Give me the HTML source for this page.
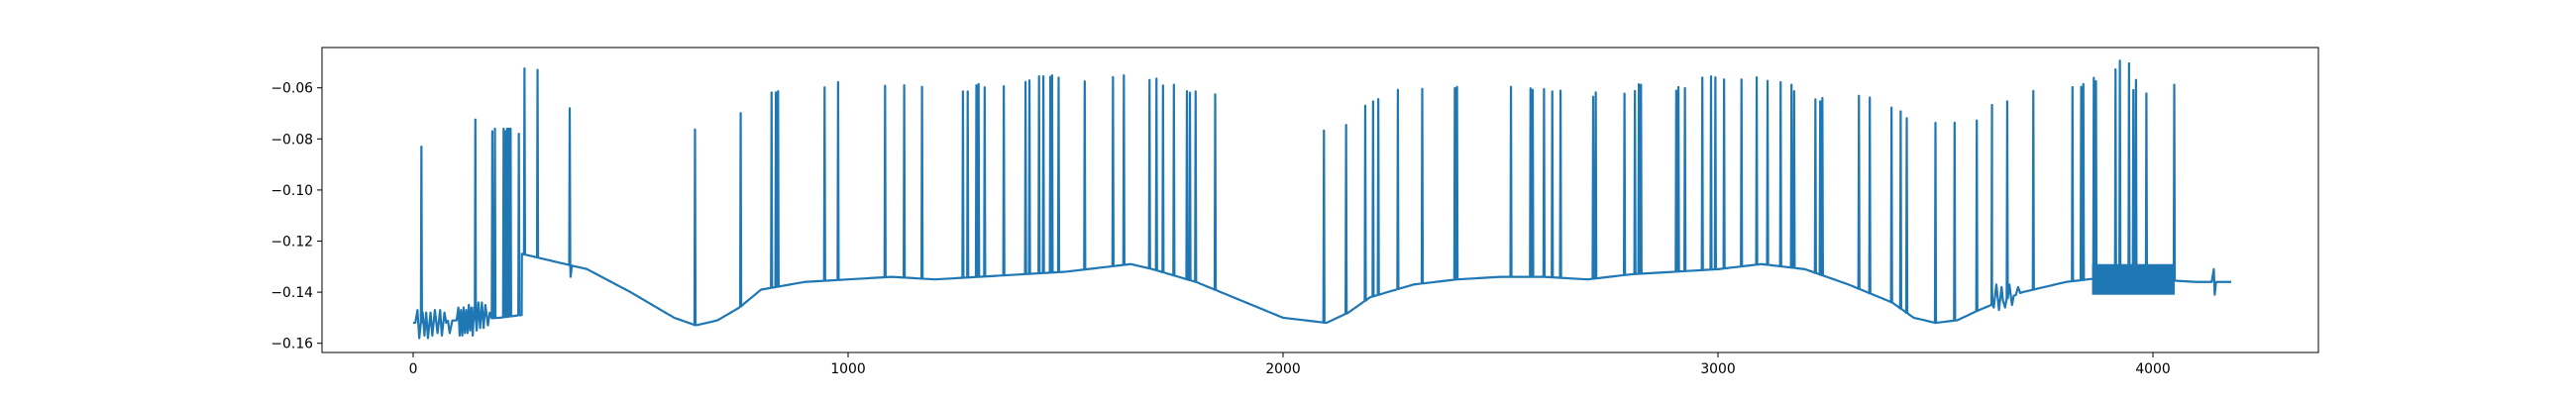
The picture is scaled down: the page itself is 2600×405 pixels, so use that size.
<!DOCTYPE html>
<html><head><meta charset="utf-8"><style>
html,body{margin:0;padding:0;background:#fff;}
svg text{font-family:"DejaVu Sans","Liberation Sans",sans-serif;font-size:13.9px;fill:#000;}
</style></head><body>
<svg id="chart" width="2600" height="400" xmlns="http://www.w3.org/2000/svg">
<rect x="0" y="0" width="2600" height="400" fill="#fff"/>
<g id="plot"></g>
<g id="axes"></g>
</svg>
<script>
// baseline knots (x, value)
const baseX = [0,100,200,245,250,300,400,500,600,650,700,750,800,900,1000,1100,1200,1300,1400,1500,1600,1650,1700,1800,1900,2000,2100,2150,2200,2300,2400,2500,2600,2700,2800,2900,3000,3100,3200,3300,3400,3450,3500,3550,3600,3700,3800,3900,4000,4100,4180];
const baseY = [-0.152,-0.151,-0.150,-0.149,-0.125,-0.127,-0.131,-0.140,-0.150,-0.153,-0.151,-0.146,-0.139,-0.136,-0.135,-0.134,-0.135,-0.134,-0.133,-0.132,-0.130,-0.129,-0.131,-0.136,-0.143,-0.150,-0.152,-0.148,-0.142,-0.137,-0.135,-0.134,-0.134,-0.135,-0.133,-0.132,-0.131,-0.129,-0.131,-0.137,-0.144,-0.150,-0.152,-0.151,-0.147,-0.140,-0.136,-0.134,-0.135,-0.136,-0.136];
// spike times and peak values
const spikeX = [19,143,182,188,208,212,216,220,224,243,256,286,360,648,753,824,834,839,946,977,1085,1129,1170,1264,1275,1295,1300,1314,1358,1408,1417,1439,1449,1465,1469,1484,1544,1609,1634,1693,1709,1724,1749,1779,1786,1799,1844,2094,2145,2189,2207,2219,2264,2320,2395,2400,2524,2569,2574,2600,2619,2638,2713,2719,2785,2809,2818,2823,2904,2909,2924,2964,2984,2994,3014,3054,3089,3114,3144,3169,3175,3224,3235,3240,3324,3349,3399,3420,3434,3500,3544,3595,3630,3665,3725,3815,3835,3840,3864,3869,3914,3924,3945,3955,3961,3985,4049];
const spikeY = [-0.083,-0.0724,-0.077,-0.076,-0.076,-0.077,-0.076,-0.076,-0.076,-0.078,-0.0524,-0.053,-0.068,-0.0763,-0.0699,-0.0618,-0.0618,-0.0613,-0.0598,-0.0578,-0.0592,-0.059,-0.0596,-0.0614,-0.0614,-0.059,-0.0585,-0.0598,-0.0594,-0.0577,-0.0571,-0.0555,-0.0555,-0.0557,-0.0551,-0.056,-0.0575,-0.0558,-0.0551,-0.0569,-0.0564,-0.0591,-0.0588,-0.0613,-0.0619,-0.0614,-0.0626,-0.0767,-0.0745,-0.067,-0.0653,-0.0644,-0.0608,-0.0604,-0.0601,-0.0596,-0.0596,-0.0602,-0.0608,-0.0605,-0.0614,-0.0611,-0.0635,-0.0618,-0.0623,-0.0612,-0.0586,-0.0588,-0.0611,-0.0597,-0.0601,-0.056,-0.0555,-0.0559,-0.0567,-0.0567,-0.0559,-0.0573,-0.0578,-0.0588,-0.0613,-0.0645,-0.0653,-0.064,-0.0631,-0.0638,-0.0677,-0.0692,-0.0719,-0.0737,-0.0736,-0.0728,-0.0667,-0.0653,-0.0612,-0.0597,-0.0596,-0.0585,-0.0561,-0.0574,-0.0528,-0.0494,-0.0504,-0.0609,-0.0569,-0.0622,-0.0588];
// noisy excursions (x, value)
const noiseX = [10,14,22,26,30,34,40,44,50,56,62,66,72,76,84,104,107,110,113,116,119,122,125,128,131,134,137,140,146,150,154,158,162,166,172,176,362,3630,3634,3640,3646,3652,3660,3670,3676,3690,4140,4142];
const noiseY = [-0.147,-0.158,-0.148,-0.157,-0.148,-0.158,-0.148,-0.157,-0.147,-0.156,-0.147,-0.157,-0.148,-0.152,-0.156,-0.146,-0.157,-0.147,-0.157,-0.146,-0.156,-0.147,-0.156,-0.145,-0.155,-0.146,-0.157,-0.146,-0.155,-0.144,-0.154,-0.144,-0.154,-0.145,-0.153,-0.148,-0.134,-0.138,-0.146,-0.137,-0.147,-0.138,-0.146,-0.137,-0.145,-0.138,-0.131,-0.141];
// dense noise band [xStart, xEnd, low, high]
const bandX0 = [3860];
const bandX1 = [4050];
const bandLo = [-0.141];
const bandHi = [-0.129];
const xTicks = [0,1000,2000,3000,4000];
const yTicks = [-0.16,-0.14,-0.12,-0.10,-0.08,-0.06];
const yTickLabels = ["−0.16","−0.14","−0.12","−0.10","−0.08","−0.06"];

const L=325,R=2340,T=48,B=356;
function sx(v){return 417+v*0.439;}
function sy(v){return 88.7+(-0.06-v)*2580;}
function baseAt(x){
  if(x>=245&&x<250) return baseY[3];
  for(let i=0;i<baseX.length-1;i++){
    if(x>=baseX[i]&&x<=baseX[i+1]){const t=(x-baseX[i])/(baseX[i+1]-baseX[i]);return baseY[i]+t*(baseY[i+1]-baseY[i]);}
  }
  return baseY[baseY.length-1];
}
const NS="http://www.w3.org/2000/svg";
const plot=document.getElementById('plot');
const axes=document.getElementById('axes');
const events=[];
spikeX.forEach(x=>events.push(x));
noiseX.forEach(x=>events.push(x));
function nearEvent(x){return events.some(e=>Math.abs(e-x)<2.5);}
let pts=[];
const xEnd=baseX[baseX.length-1];
for(let x=0;x<=xEnd;x+=5){ if(!nearEvent(x)) pts.push([x,baseAt(x)]); }
pts.push([249.5,baseY[3]]);pts.push([250,baseY[4]]);
for(let i=0;i<spikeX.length;i++){
  const b=baseAt(spikeX[i]);
  pts.push([spikeX[i]-1.2,b]);pts.push([spikeX[i],spikeY[i]]);pts.push([spikeX[i]+1.2,b]);
}
for(let i=0;i<noiseX.length;i++){pts.push([noiseX[i],noiseY[i]]);}
pts.sort((a,b)=>a[0]-b[0]);
const line=document.createElementNS(NS,'polyline');


line.setAttribute('points',pts.map(p=>sx(p[0]).toFixed(2)+','+sy(p[1]).toFixed(2)).join(' '));
line.setAttribute('fill','none');line.setAttribute('stroke','#1f77b4');line.setAttribute('stroke-width','2.2');line.setAttribute('stroke-linejoin','round');
plot.appendChild(line);
for(let i=0;i<bandX0.length;i++){
  const r=document.createElementNS(NS,'rect');
  
  
  r.setAttribute('x',sx(bandX0[i]));r.setAttribute('width',sx(bandX1[i])-sx(bandX0[i]));
  r.setAttribute('y',sy(bandHi[i]));r.setAttribute('height',sy(bandLo[i])-sy(bandHi[i]));
  r.setAttribute('fill','#1f77b4');
  plot.appendChild(r);
}
const frame=document.createElementNS(NS,'rect');


frame.setAttribute('x',L);frame.setAttribute('y',T);frame.setAttribute('width',R-L);frame.setAttribute('height',B-T);
frame.setAttribute('fill','none');frame.setAttribute('stroke','#000');frame.setAttribute('stroke-width','1');
axes.appendChild(frame);
xTicks.forEach(v=>{
  const x=sx(v);
  const t=document.createElementNS(NS,'line');
  
  
  t.setAttribute('x1',x);t.setAttribute('x2',x);t.setAttribute('y1',B);t.setAttribute('y2',B+5);t.setAttribute('stroke','#000');
  axes.appendChild(t);
  const tx=document.createElementNS(NS,'text');
  
  
  tx.setAttribute('x',x);tx.setAttribute('y',B+21);tx.setAttribute('text-anchor','middle');tx.textContent=String(v);
  axes.appendChild(tx);
});
yTicks.forEach((v,i)=>{
  const y=sy(v);
  const t=document.createElementNS(NS,'line');
  
  
  t.setAttribute('x1',L-5);t.setAttribute('x2',L);t.setAttribute('y1',y);t.setAttribute('y2',y);t.setAttribute('stroke','#000');
  axes.appendChild(t);
  const tx=document.createElementNS(NS,'text');
  
  
  tx.setAttribute('x',L-9);tx.setAttribute('y',y+5);tx.setAttribute('text-anchor','end');tx.textContent=yTickLabels[i];
  axes.appendChild(tx);
});
</script>
</body></html>
